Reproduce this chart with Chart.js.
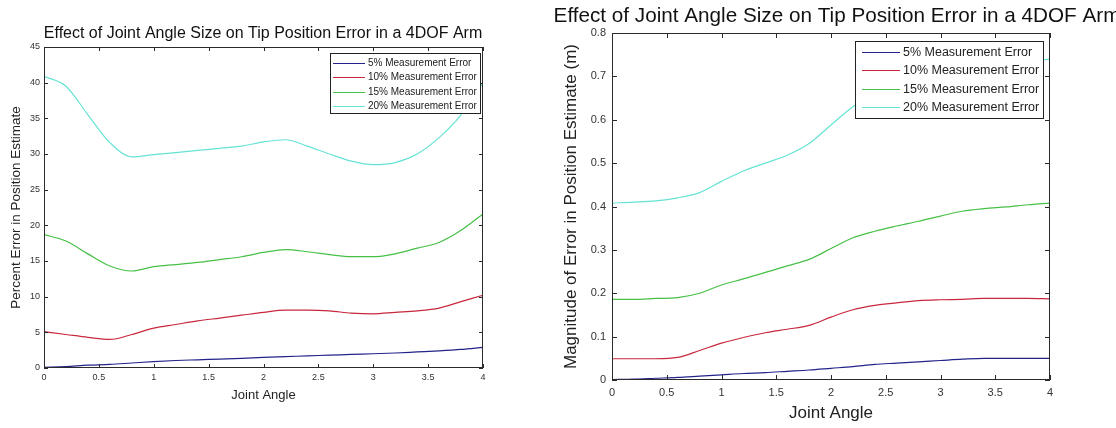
<!DOCTYPE html>
<html lang="en">
<head>
    <meta charset="UTF-8">
    <title>Joint Angle Size vs Tip Position Error</title>
    <script src="https://cdn.jsdelivr.net/npm/chart.js"></script>
    <style>
        html, body { margin: 0; padding: 0; background: #fff; width: 1116px; height: 428px; overflow: hidden; }
        #left { position: absolute; left: 0; top: 0; }
        #right { position: absolute; left: 540px; top: 0; }
    </style>
</head>
<body>
<canvas id="left" width="520" height="428"></canvas>
<canvas id="right" width="576" height="428"></canvas>
<script>
// joint angle samples (x axis)
const angles = [0, 0.2, 0.4, 0.6, 0.8, 1.0, 1.2, 1.4, 1.6, 1.8, 2.0, 2.2, 2.4, 2.6, 2.8, 3.0, 3.2, 3.4, 3.6, 3.8, 4.0];
const seriesNames = ['5% Measurement Error', '10% Measurement Error', '15% Measurement Error', '20% Measurement Error'];
const seriesColors = ['#23238c', '#c8283c', '#46c046', '#66e3d4'];

// left plot: percent error
const pct5  = [0.1, 0.2, 0.4, 0.5, 0.7, 0.9, 1.05, 1.15, 1.25, 1.35, 1.5, 1.6, 1.7, 1.8, 1.9, 2.0, 2.1, 2.25, 2.4, 2.6, 2.9];
const pct10 = [5.1, 4.7, 4.3, 4.0, 4.7, 5.6, 6.1, 6.6, 7.0, 7.4, 7.8, 8.1, 8.1, 8.0, 7.7, 7.6, 7.8, 8.0, 8.4, 9.3, 10.2];
const pct15 = [18.7, 17.8, 16.0, 14.3, 13.6, 14.2, 14.5, 14.8, 15.2, 15.6, 16.2, 16.6, 16.3, 15.9, 15.6, 15.6, 16.0, 16.8, 17.6, 19.3, 21.6];
const pct20 = [40.9, 39.5, 35.5, 31.6, 29.6, 29.9, 30.2, 30.5, 30.8, 31.1, 31.7, 32.0, 31.1, 30.0, 29.0, 28.5, 28.8, 30.0, 32.3, 35.5, 40.0];

// right plot: magnitude of error (m)
const mag5  = [0.001, 0.002, 0.004, 0.006, 0.009, 0.012, 0.015, 0.017, 0.020, 0.023, 0.027, 0.031, 0.036, 0.039, 0.042, 0.045, 0.048, 0.050, 0.050, 0.050, 0.050];
const mag10 = [0.049, 0.049, 0.049, 0.052, 0.068, 0.085, 0.098, 0.109, 0.117, 0.126, 0.145, 0.162, 0.172, 0.178, 0.183, 0.185, 0.186, 0.188, 0.188, 0.188, 0.187];
const mag15 = [0.186, 0.186, 0.188, 0.190, 0.200, 0.219, 0.233, 0.248, 0.263, 0.278, 0.303, 0.328, 0.343, 0.355, 0.366, 0.378, 0.389, 0.395, 0.399, 0.404, 0.408];
const mag20 = [0.408, 0.410, 0.413, 0.420, 0.432, 0.458, 0.482, 0.500, 0.518, 0.545, 0.588, 0.630, 0.660, 0.685, 0.700, 0.710, 0.720, 0.725, 0.730, 0.735, 0.740];

// tick labels
const xTicks = [0, 0.5, 1, 1.5, 2, 2.5, 3, 3.5, 4];
const pctTicks = [0, 5, 10, 15, 20, 25, 30, 35, 40, 45];
const magTicks = [0, 0.1, 0.2, 0.3, 0.4, 0.5, 0.6, 0.7, 0.8];

const titleText = 'Effect of Joint Angle Size on Tip Position Error in a 4DOF Arm';
const FONT = '"Liberation Sans", Arial, sans-serif';

// box, inward ticks, title and legend in matlab style
const matlabFrame = {
    id: 'matlabFrame',
    afterDatasetsDraw(chart, args, opts) {
        const ctx = chart.ctx;
        const a = chart.chartArea;
        const x = chart.scales.x;
        const y = chart.scales.y;
        ctx.save();
        ctx.strokeStyle = '#2b2b2b';
        ctx.lineWidth = 1;
        ctx.strokeRect(Math.round(a.left) + 0.5, Math.round(a.top) + 0.5, Math.round(a.width) - 1, Math.round(a.height) - 1);

        ctx.beginPath();
        x.ticks.forEach(t => {
            const px = Math.round(x.getPixelForValue(t.value)) + 0.5;
            ctx.moveTo(px, a.bottom); ctx.lineTo(px, a.bottom - opts.tick);
            ctx.moveTo(px, a.top); ctx.lineTo(px, a.top + opts.tick);
        });
        y.ticks.forEach(t => {
            const py = Math.round(y.getPixelForValue(t.value)) + 0.5;
            ctx.moveTo(a.left, py); ctx.lineTo(a.left + opts.tick, py);
            ctx.moveTo(a.right, py); ctx.lineTo(a.right - opts.tick, py);
        });
        ctx.stroke();

        // legend
        const lg = opts.legend;
        ctx.fillStyle = '#fff';
        ctx.fillRect(lg.x, lg.y, lg.w, lg.h);
        ctx.strokeStyle = '#222';
        ctx.strokeRect(lg.x + 0.5, lg.y + 0.5, lg.w, lg.h);
        ctx.font = lg.font + 'px ' + FONT;
        ctx.textBaseline = 'middle';
        ctx.textAlign = 'left';
        chart.data.datasets.forEach((ds, i) => {
            const cy = Math.round(lg.y + lg.first + i * lg.row) + 0.5;
            ctx.strokeStyle = ds.borderColor;
            ctx.beginPath();
            ctx.moveTo(lg.x + lg.pad, cy);
            ctx.lineTo(lg.x + lg.pad + lg.line, cy);
            ctx.stroke();
            ctx.fillStyle = '#222';
            ctx.fillText(ds.label, lg.x + lg.pad + lg.line + 3, cy);
        });

        // title
        ctx.font = opts.titleSize + 'px ' + FONT;
        ctx.textAlign = 'center';
        ctx.fillStyle = '#111';
        ctx.fillText(titleText, opts.titleX, opts.titleY);
        ctx.restore();
    }
};

function makeDatasets(values) {
    return values.map((vals, i) => ({
        label: seriesNames[i],
        data: angles.map((a, j) => ({ x: a, y: vals[j] })),
        borderColor: seriesColors[i],
        borderWidth: 1.2,
        pointRadius: 0,
        cubicInterpolationMode: 'monotone',
        fill: false
    }));
}

function makeChart(id, cfg) {
    return new Chart(document.getElementById(id), {
        type: 'line',
        data: { datasets: makeDatasets(cfg.values) },
        options: {
            responsive: false,
            animation: false,
            events: [],
            layout: { padding: cfg.padding },
            plugins: {
                legend: { display: false },
                tooltip: { enabled: false },
                matlabFrame: cfg.frame
            },
            scales: {
                x: {
                    type: 'linear',
                    min: 0,
                    max: 4,
                    afterBuildTicks: s => { s.ticks = xTicks.map(v => ({ value: v })); },
                    afterFit: s => { s.height = cfg.xHeight; },
                    grid: { display: false, drawTicks: false },
                    border: { display: false },
                    ticks: {
                        autoSkip: false,
                        maxRotation: 0,
                        padding: cfg.tickPad,
                        color: '#333',
                        font: { family: FONT, size: cfg.tickSize },
                        callback: v => String(v)
                    },
                    title: {
                        display: true,
                        text: 'Joint Angle',
                        color: '#222',
                        font: { family: FONT, size: cfg.axisSize },
                        padding: { top: 0, bottom: cfg.xTitlePad }
                    }
                },
                y: {
                    type: 'linear',
                    min: 0,
                    max: cfg.yTicks[cfg.yTicks.length - 1],
                    afterBuildTicks: s => { s.ticks = cfg.yTicks.map(v => ({ value: v })); },
                    afterFit: s => { s.width = cfg.yWidth; },
                    grid: { display: false, drawTicks: false },
                    border: { display: false },
                    ticks: {
                        autoSkip: false,
                        padding: cfg.tickPad,
                        color: '#333',
                        font: { family: FONT, size: cfg.tickSize },
                        callback: v => String(v)
                    },
                    title: {
                        display: true,
                        text: cfg.yTitle,
                        color: '#222',
                        font: { family: FONT, size: cfg.yAxisSize },
                        padding: { top: cfg.yTitlePad, bottom: 0 }
                    }
                }
            }
        },
        plugins: [matlabFrame]
    });
}

makeChart('left', {
    values: [pct5, pct10, pct15, pct20],
    yTicks: pctTicks,
    yTitle: 'Percent Error in Position Estimate',
    padding: { left: 0, right: 37, top: 47, bottom: 20 },
    xHeight: 40,
    yWidth: 44,
    tickPad: 4,
    tickSize: 9,
    axisSize: 13,
    yAxisSize: 13.5,
    xTitlePad: 5,
    yTitlePad: 8,
    frame: {
        tick: 4,
        titleSize: 16,
        titleX: 263,
        titleY: 34,
        legend: { x: 330, y: 53, w: 150, h: 60, first: 10, row: 14.3, pad: 3, line: 32, font: 10 }
    }
});

makeChart('right', {
    values: [mag5, mag10, mag15, mag20],
    yTicks: magTicks,
    yTitle: 'Magnitude of Error in Position Estimate (m)',
    padding: { left: 0, right: 66, top: 33, bottom: 0 },
    xHeight: 48,
    yWidth: 72,
    tickPad: 6,
    tickSize: 11,
    axisSize: 17,
    yAxisSize: 17,
    xTitlePad: 4,
    yTitlePad: 21,
    frame: {
        tick: 5,
        titleSize: 20.7,
        titleX: 297,
        titleY: 16,
        legend: { x: 315, y: 41, w: 188, h: 77, first: 11, row: 18.3, pad: 7, line: 38, font: 12.5 }
    }
});
</script>
</body>
</html>
